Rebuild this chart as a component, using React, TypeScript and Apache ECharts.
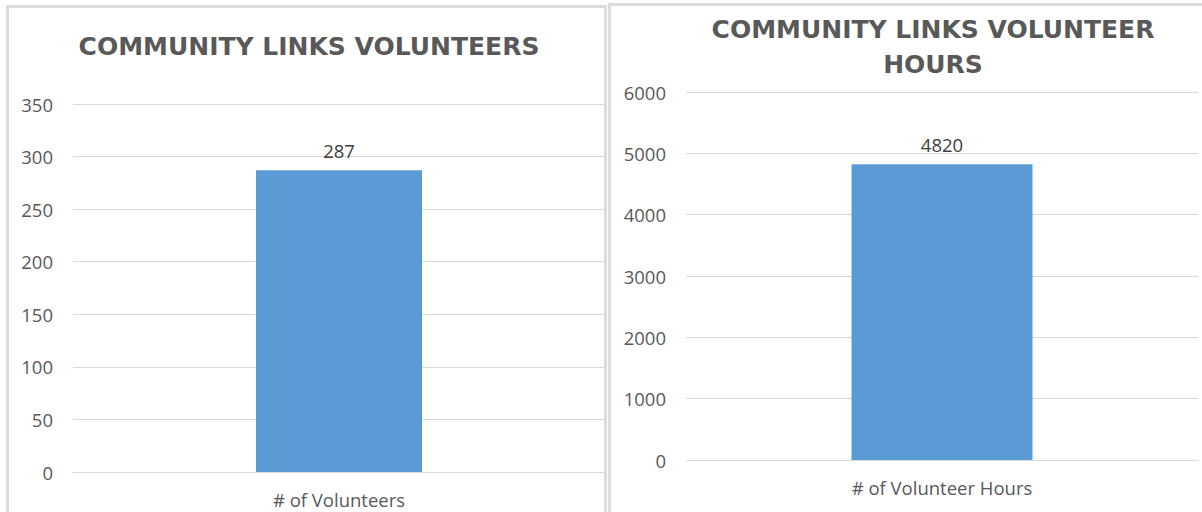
import React, { useEffect, useRef } from "react";
import * as echarts from "echarts";

const leftTitle = "COMMUNITY LINKS VOLUNTEERS";
const rightTitle = "COMMUNITY LINKS VOLUNTEER\nHOURS";
const leftCategories = ["# of Volunteers"];
const leftValues = [287];
const rightCategories = ["# of Volunteer Hours"];
const rightValues = [4820];
const leftAxis = { min: 0, max: 350, interval: 50 };
const rightAxis = { min: 0, max: 6000, interval: 1000 };

const TXT = "#595959";
const BAR = "#5b9bd5";
const GRID = "#d9d9d9";
const LABEL_FONT = "'Open Sans', 'Noto Sans', sans-serif";
const TITLE_FONT = "'DejaVu Sans', sans-serif";
const FS = 18.5;

export default function App() {
  const ref = useRef<HTMLDivElement>(null);
  useEffect(() => {
    if (!ref.current) return;
    const chart = echarts.init(ref.current, null, { renderer: "svg" });
    const valueAxis = (idx: number, ax: { min: number; max: number; interval: number }) => ({
      type: "value",
      gridIndex: idx,
      min: ax.min,
      max: ax.max,
      interval: ax.interval,
      axisLine: { show: false },
      axisTick: { show: false },
      axisLabel: {
        color: TXT,
        fontSize: FS,
        fontFamily: LABEL_FONT,
        margin: 20,
        formatter: (v: number) => String(v),
      },
      splitLine: { lineStyle: { color: GRID, width: 1 } },
    });
    const catAxis = (idx: number, cats: string[]) => ({
      type: "category",
      gridIndex: idx,
      data: cats,
      axisLine: { show: true, lineStyle: { color: GRID } },
      axisTick: { show: false },
      axisLabel: { color: TXT, fontSize: FS, fontFamily: LABEL_FONT, margin: 18 },
    });
    const barLabel = {
      show: true,
      position: "top",
      distance: 10,
      color: "#404040",
      fontSize: FS,
      fontFamily: LABEL_FONT,
    };
    chart.setOption({
      animation: false,
      backgroundColor: "#ffffff",
      title: [
        {
          text: leftTitle,
          left: 304,
          top: 29,
          textAlign: "center",
          textStyle: { color: TXT, fontSize: 25, fontWeight: "bold", fontFamily: TITLE_FONT },
        },
        {
          text: rightTitle,
          left: 928,
          top: 7,
          textAlign: "center",
          textStyle: { color: TXT, fontSize: 25, fontWeight: "bold", fontFamily: TITLE_FONT, lineHeight: 35 },
        },
      ],
      grid: [
        { left: 73, right: 597, top: 104, bottom: 40 },
        { left: 686, right: 4, top: 92, bottom: 52 },
      ],
      xAxis: [catAxis(0, leftCategories), catAxis(1, rightCategories)],
      yAxis: [valueAxis(0, leftAxis), valueAxis(1, rightAxis)],
      series: [
        {
          type: "bar",
          xAxisIndex: 0,
          yAxisIndex: 0,
          data: leftValues,
          barWidth: 166,
          itemStyle: { color: BAR },
          label: barLabel,
        },
        {
          type: "bar",
          xAxisIndex: 1,
          yAxisIndex: 1,
          data: rightValues,
          barWidth: 181,
          itemStyle: { color: BAR },
          label: barLabel,
        },
      ],
      graphic: [
        {
          type: "rect",
          shape: { x: 7.5, y: 6.5, width: 598, height: 520 },
          style: { fill: "none", stroke: "#dcdcdc", lineWidth: 3 },
          z: 100,
        },
        {
          type: "rect",
          shape: { x: 609.5, y: 4.5, width: 600, height: 520 },
          style: { fill: "none", stroke: "#dcdcdc", lineWidth: 3 },
          z: 100,
        },
      ],
    });
    return () => chart.dispose();
  }, []);
  return (
    <div
      ref={ref}
      style={{ position: "fixed", left: 0, top: 0, width: 1202, height: 512, background: "#fff" }}
    />
  );
}
